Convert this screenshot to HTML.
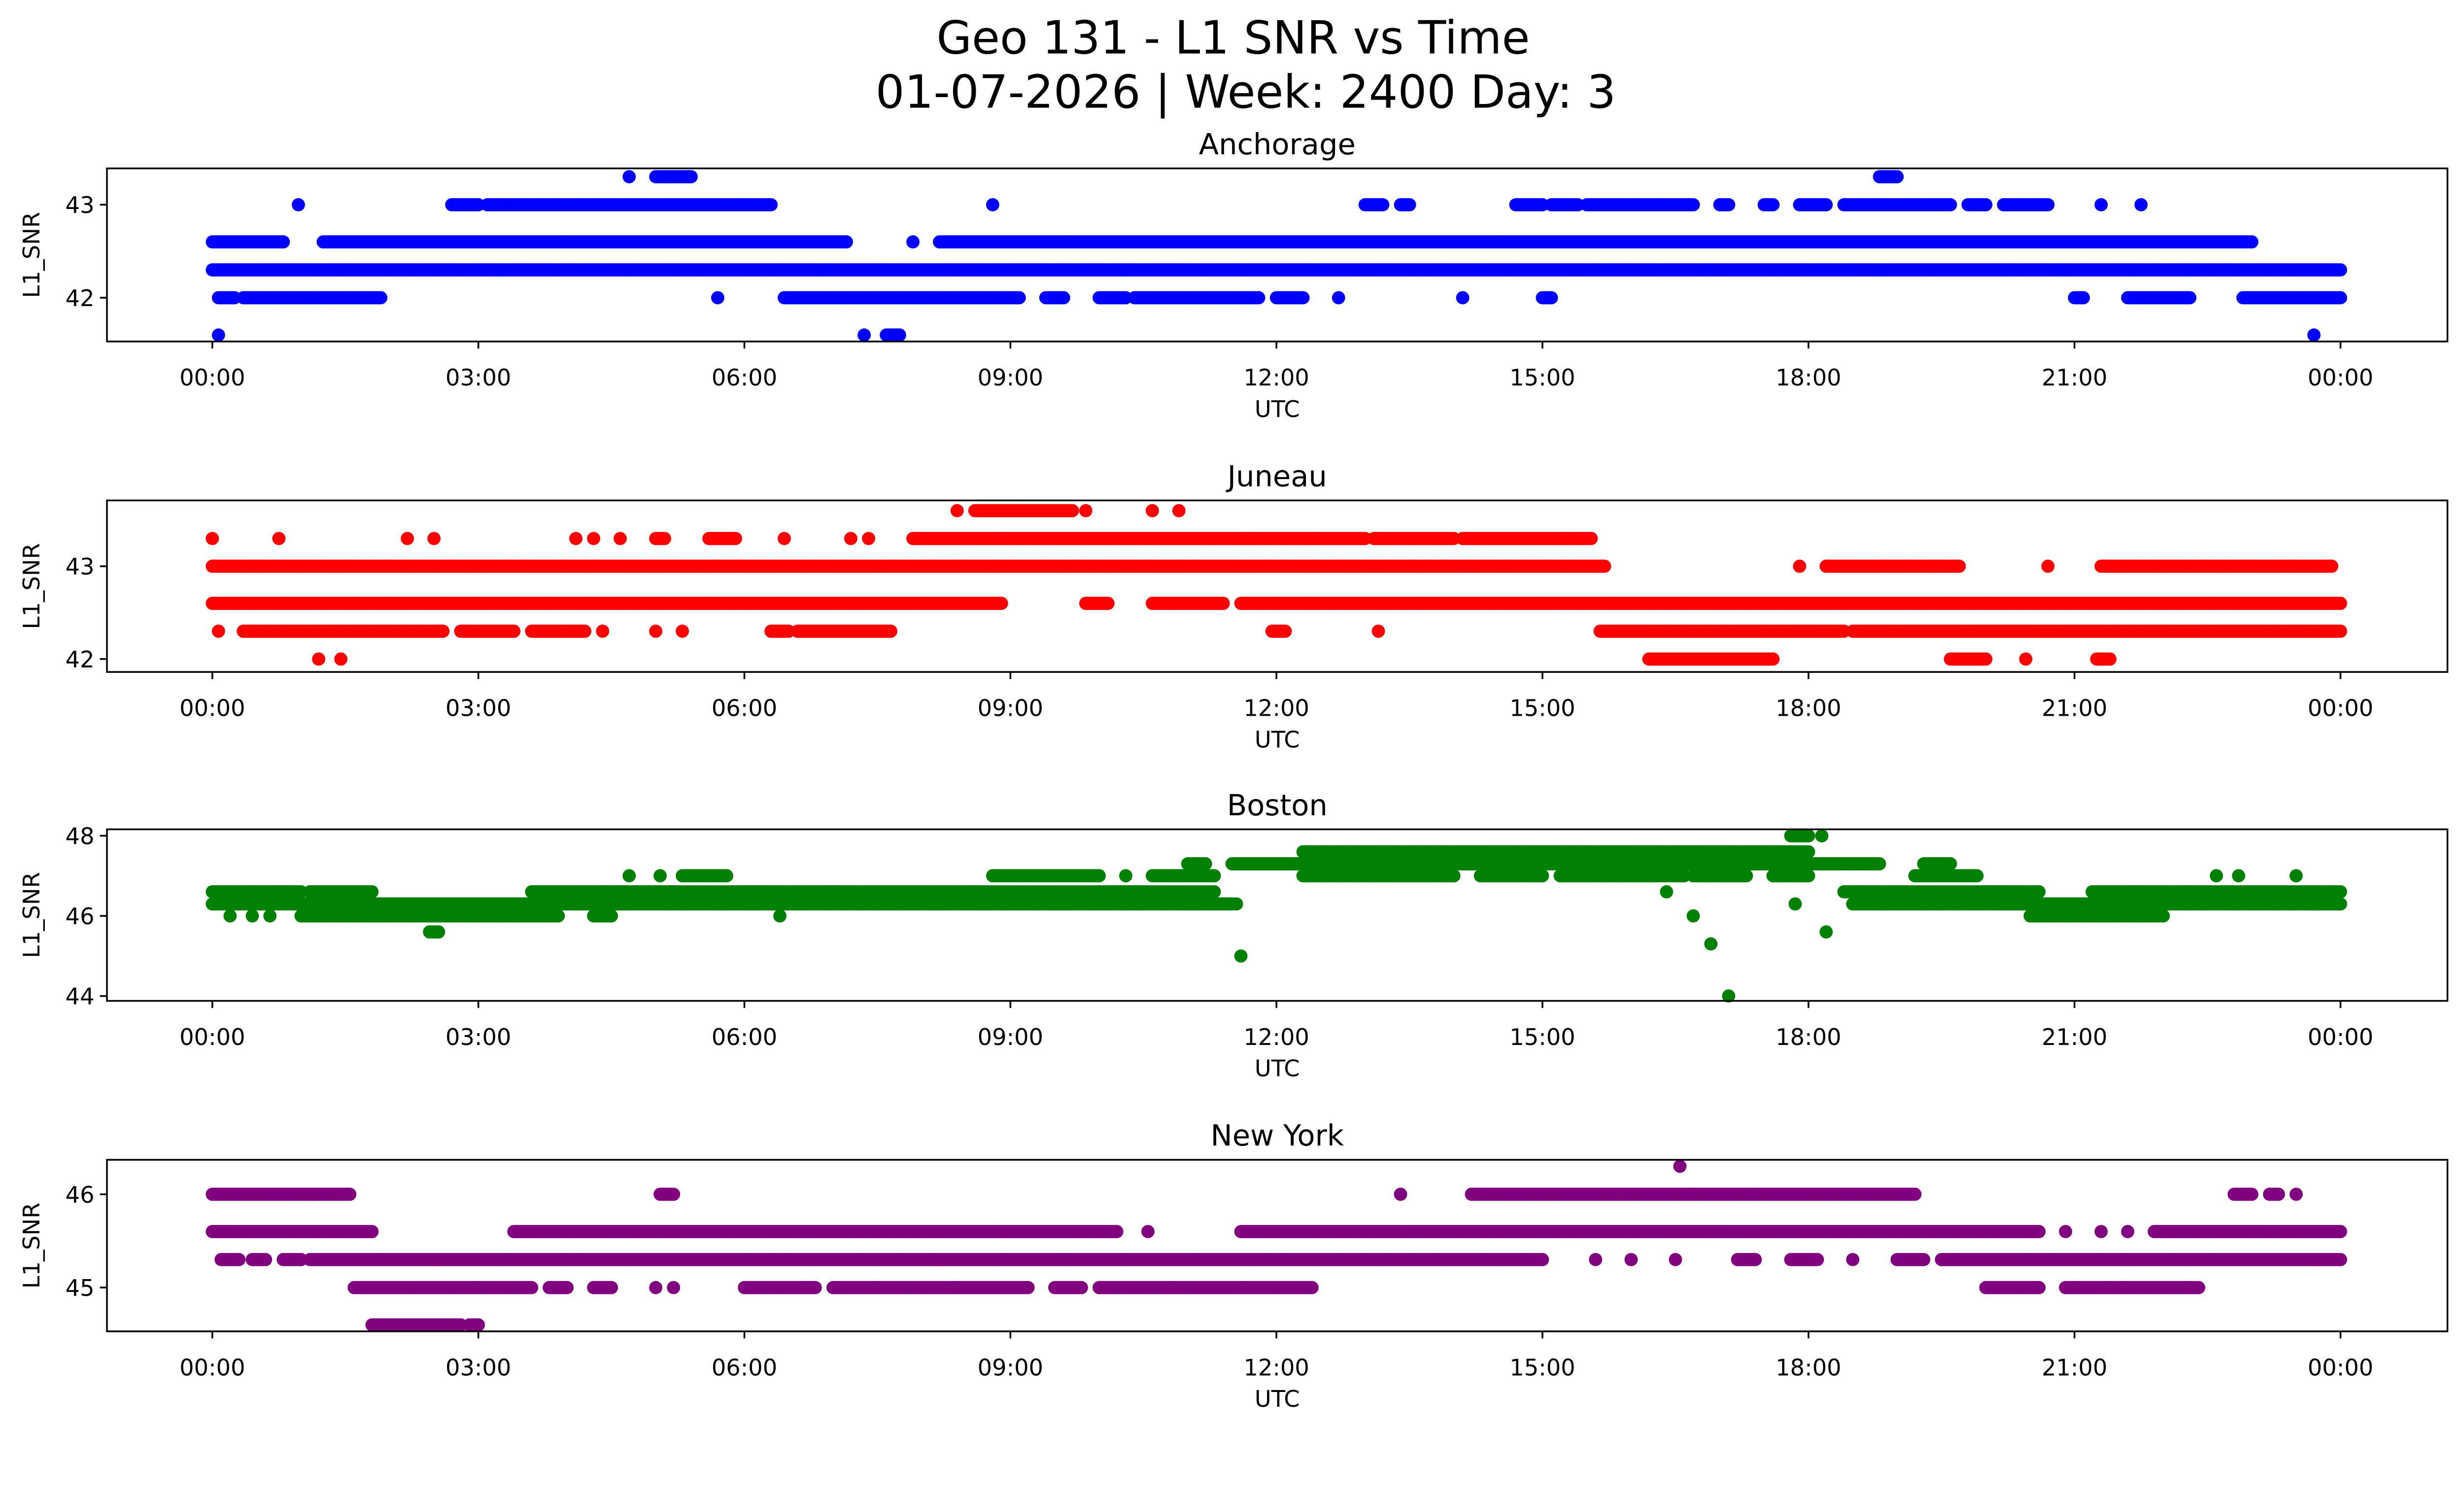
<!DOCTYPE html>
<html><head><meta charset="utf-8"><style>
html,body{margin:0;padding:0;background:#fff;overflow:hidden;}
svg{display:block;}
text{font-family:"DejaVu Sans","Liberation Sans",sans-serif;fill:#000;}
</style></head><body>
<svg id="fig" width="5225" height="3033" viewBox="0 0 1637 950" preserveAspectRatio="none" xmlns="http://www.w3.org/2000/svg">
<rect width="1637" height="950" fill="#fff"/>
<text x="784" y="34" font-size="29" text-anchor="middle">Geo 131 - L1 SNR vs Time</text>
<text x="792" y="68.5" font-size="29" text-anchor="middle">01-07-2026 | Week: 2400 Day: 3</text>
</svg>
<script>
// Time ticks (hours) and labels
const xTickHours = [0,3,6,9,12,15,18,21,24];
const xTickLabels = ["00:00","03:00","06:00","09:00","12:00","15:00","18:00","21:00","00:00"];

// Each series: runs [startHour, endHour, value]; single points have start==end
const anchorageRuns = [
 [0,24,42.3],
 [0,0.8,42.6],[1.25,7.15,42.6],[7.9,7.9,42.6],[8.2,23.0,42.6],
 [0.97,0.97,43],[2.7,3.0,43],[3.1,6.3,43],[8.8,8.8,43],[13.0,13.2,43],[13.4,13.5,43],[14.7,15.0,43],[15.1,15.4,43],[15.5,16.7,43],[17.0,17.1,43],[17.5,17.6,43],[17.9,18.2,43],[18.4,19.6,43],[19.8,20.0,43],[20.2,20.7,43],[21.3,21.3,43],[21.75,21.75,43],
 [4.7,4.7,43.3],[5.0,5.4,43.3],[18.8,19.0,43.3],
 [0.07,0.25,42],[0.35,1.9,42],[5.7,5.7,42],[6.45,9.1,42],[9.4,9.6,42],[10.0,10.3,42],[10.4,11.8,42],[12.0,12.3,42],[12.7,12.7,42],[14.1,14.1,42],[15.0,15.1,42],[21.0,21.1,42],[21.6,22.3,42],[22.9,24,42],
 [0.07,0.07,41.6],[7.35,7.35,41.6],[7.6,7.75,41.6],[23.7,23.7,41.6]
];
const juneauRuns = [
 [0,15.7,43],[17.9,17.9,43],[18.2,19.7,43],[20.7,20.7,43],[21.3,23.9,43],
 [0,8.9,42.6],[9.85,10.1,42.6],[10.6,11.4,42.6],[11.6,24,42.6],
 [0,0,43.3],[0.75,0.75,43.3],[2.2,2.2,43.3],[2.5,2.5,43.3],[4.1,4.1,43.3],[4.3,4.3,43.3],[4.6,4.6,43.3],[5.0,5.1,43.3],[5.6,5.9,43.3],[6.45,6.45,43.3],[7.2,7.2,43.3],[7.4,7.4,43.3],[7.9,13.0,43.3],[13.1,14.0,43.3],[14.1,15.55,43.3],
 [8.4,8.4,43.6],[8.6,9.7,43.6],[9.85,9.85,43.6],[10.6,10.6,43.6],[10.9,10.9,43.6],
 [0.07,0.07,42.3],[0.35,2.6,42.3],[2.8,3.4,42.3],[3.6,4.2,42.3],[4.4,4.4,42.3],[5.0,5.0,42.3],[5.3,5.3,42.3],[6.3,6.5,42.3],[6.6,7.65,42.3],[11.95,12.1,42.3],[13.15,13.15,42.3],[15.65,18.4,42.3],[18.5,24,42.3],
 [1.2,1.2,42],[1.45,1.45,42],[16.2,17.6,42],[19.6,20.0,42],[20.45,20.45,42],[21.25,21.4,42]
];
const bostonRuns = [
 [0,1.0,46.6],[1.1,1.8,46.6],[3.6,11.3,46.6],[18.4,20.6,46.6],[21.2,24,46.6],
 [0,11.5,46.3],[18.5,24,46.3],
 [0.2,0.2,46],[0.45,0.45,46],[0.65,0.65,46],[1.0,3.9,46],[4.3,4.5,46],[20.5,22.0,46],
 [4.7,4.7,47],[5.05,5.05,47],[5.3,5.8,47],[8.8,10.0,47],[10.3,10.3,47],[10.6,11.3,47],[12.3,14.0,47],[14.3,15.0,47],[15.2,16.6,47],[16.7,17.3,47],[17.6,18.0,47],[19.2,19.9,47],[22.6,22.6,47],[22.85,22.85,47],[23.5,23.5,47],
 [11.0,11.2,47.3],[11.5,18.8,47.3],[19.3,19.6,47.3],
 [12.3,18.0,47.6],
 [17.8,18.0,48],[18.15,18.15,48],
 [2.45,2.55,45.6],[6.4,6.4,46],[11.6,11.6,45],[11.55,11.55,46.3],[16.4,16.4,46.6],[16.7,16.7,46],[16.9,16.9,45.3],[17.1,17.1,44],[17.85,17.85,46.3],[18.2,18.2,45.6]
];
const newYorkRuns = [
 [0,1.55,46],[5.05,5.2,46],[13.4,13.4,46],[14.2,19.2,46],[22.8,23.0,46],[23.2,23.3,46],[23.5,23.5,46],
 [0,1.8,45.6],[3.4,10.2,45.6],[10.55,10.55,45.6],[11.6,20.6,45.6],[20.9,20.9,45.6],[21.3,21.3,45.6],[21.6,21.6,45.6],[21.9,24,45.6],
 [0.1,0.3,45.3],[0.45,0.6,45.3],[0.8,1.0,45.3],[1.1,15.0,45.3],[15.6,15.6,45.3],[16.0,16.0,45.3],[16.5,16.5,45.3],[17.2,17.4,45.3],[17.8,18.1,45.3],[18.5,18.5,45.3],[19.0,19.3,45.3],[19.5,24,45.3],
 [1.6,3.6,45],[3.8,4.0,45],[4.3,4.5,45],[5.0,5.0,45],[5.2,5.2,45],[6.0,6.8,45],[7.0,9.2,45],[9.5,9.8,45],[10.0,12.4,45],[20.0,20.6,45],[20.9,22.4,45],
 [1.8,2.8,44.6],[2.9,3.0,44.6],
 [16.55,16.55,46.3]
];

const panels = [
 {name:"Anchorage", slug:"anchorage", color:"#0000ff", runs:anchorageRuns, top:107, bottom:217, ymin:41.53, ymax:43.39, yticks:[42,43]},
 {name:"Juneau", slug:"juneau", color:"#ff0000", runs:juneauRuns, top:318, bottom:427, ymin:41.86, ymax:43.71, yticks:[42,43]},
 {name:"Boston", slug:"boston", color:"#008000", runs:bostonRuns, top:527, bottom:636, ymin:43.88, ymax:48.16, yticks:[44,46,48]},
 {name:"New York", slug:"new-york", color:"#800080", runs:newYorkRuns, top:737, bottom:846, ymin:44.53, ymax:46.37, yticks:[45,46]}
];

const NS = "http://www.w3.org/2000/svg";
const svg = document.getElementById("fig");
const L = 68, R = 1556, X0 = 135, X24 = 1488;
const xScale = h => X0 + (X24 - X0) * h / 24;

function mk(tag, attrs, parent){
  const e = document.createElementNS(NS, tag);
  for (const k in attrs) e.setAttribute(k, attrs[k]);
  (parent || svg).appendChild(e);
  return e;
}

panels.forEach(p => {
  const g = mk("g", {});
  
  
  const yScale = v => p.bottom - (v - p.ymin) / (p.ymax - p.ymin) * (p.bottom - p.top);
  const pts = mk("g", {fill: p.color}, g);
  
  
  p.runs.forEach(r => {
    const y = yScale(r[2]);
    const n = Math.max(1, Math.round((r[1] - r[0]) / 0.02));
    for (let i = 0; i <= n; i++) {
      const h = r[0] + (r[1] - r[0]) * (r[1] === r[0] ? 0 : i / n);
      const c = mk("ellipse", {cx: xScale(h).toFixed(1), cy: y.toFixed(1), rx: 4.2, ry: 4.2}, pts);
      
      
      if (r[1] === r[0]) break;
    }
  });
  const frame = mk("rect", {x: L, y: p.top, width: R - L, height: p.bottom - p.top, fill: "none", stroke: "#000", "stroke-width": 1.1}, g);
  
  
  xTickHours.forEach((h, i) => {
    const x = xScale(h);
    mk("line", {x1: x, x2: x, y1: p.bottom, y2: p.bottom + 4.5, stroke: "#000", "stroke-width": 1.1}, g);
    const t = mk("text", {x: x, y: p.bottom + 28, "font-size": 14.5, "text-anchor": "middle"}, g);
    t.textContent = xTickLabels[i];
    
    
  });
  p.yticks.forEach(v => {
    const y = yScale(v);
    mk("line", {x1: L - 4.5, x2: L, y1: y, y2: y, stroke: "#000", "stroke-width": 1.1}, g);
    const t = mk("text", {x: L - 8, y: y + 5.3, "font-size": 14.5, "text-anchor": "end"}, g);
    t.textContent = String(v);
    
    
  });
  const xt = mk("text", {x: 812, y: p.bottom + 48, "font-size": 14.5, "text-anchor": "middle"}, g);
  xt.textContent = "UTC";
  
  
  const yc = (p.top + p.bottom) / 2;
  const yt = mk("text", {x: 0, y: 0, "font-size": 14.5, "text-anchor": "middle", transform: "translate(25," + yc + ") rotate(-90)"}, g);
  yt.textContent = "L1_SNR";
  
  
  const tt = mk("text", {x: 812, y: p.top - 9, "font-size": 18.5, "text-anchor": "middle"}, g);
  tt.textContent = p.name;
  
  
});
</script>
</body></html>
